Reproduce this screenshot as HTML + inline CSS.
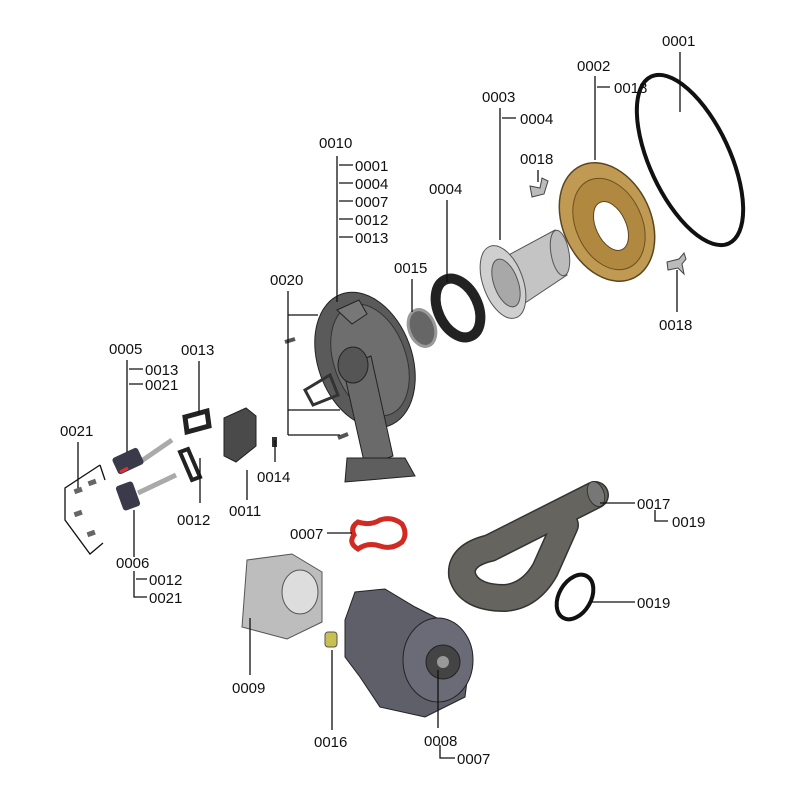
<!DOCTYPE html>
<html><head><meta charset="utf-8"><style>
html,body{margin:0;padding:0;background:#fff}
svg{display:block}
text{font-family:"Liberation Sans",sans-serif;font-size:15px;fill:#111}
</style></head><body>
<svg width="800" height="800" viewBox="0 0 800 800" xmlns="http://www.w3.org/2000/svg">
<!-- O-ring 0001 -->
<ellipse cx="690" cy="160" rx="40" ry="92" transform="rotate(-25 690 160)" fill="none" stroke="#111" stroke-width="4"/>
<!-- gold ring 0002 -->
<ellipse cx="607" cy="222" rx="44" ry="62" transform="rotate(-25 607 222)" fill="#c09a52" stroke="#5a4520" stroke-width="1.5"/>
<ellipse cx="609" cy="224" rx="33" ry="48" transform="rotate(-25 609 224)" fill="#b08840" stroke="#6a5020"/>
<ellipse cx="611" cy="226" rx="15" ry="26" transform="rotate(-25 611 226)" fill="#fff" stroke="#5a4520"/>
<!-- clips 0018 -->
<path d="M530 186l10 2 2-10 6 3-4 13-12 3z" fill="#bbb" stroke="#444"/>
<path d="M667 262l12-3 5-6 2 6-4 5 2 10-6-6-10 2z" fill="#bbb" stroke="#444"/>
<!-- burner tube 0003 -->
<path d="M503 258l52-28 12 45-48 32z" fill="#c4c4c4" stroke="#555"/>
<ellipse cx="560" cy="253" rx="9" ry="23" transform="rotate(-10 560 253)" fill="#bbb" stroke="#555"/>
<ellipse cx="503" cy="282" rx="20" ry="38" transform="rotate(-20 503 282)" fill="#cfcfcf" stroke="#555"/>
<ellipse cx="506" cy="283" rx="12" ry="25" transform="rotate(-20 506 283)" fill="#a8a8a8" stroke="#555"/>
<!-- gasket 0004 -->
<ellipse cx="458" cy="308" rx="20" ry="31" transform="rotate(-25 458 308)" fill="none" stroke="#222" stroke-width="10"/>
<!-- 0015 -->
<ellipse cx="422" cy="328" rx="13" ry="19" transform="rotate(-20 422 328)" fill="#666" stroke="#999" stroke-width="3"/>
<!-- housing 0010 -->
<ellipse cx="365" cy="360" rx="47" ry="70" transform="rotate(-20 365 360)" fill="#5a5a5a" stroke="#222"/>
<ellipse cx="370" cy="360" rx="36" ry="58" transform="rotate(-20 370 360)" fill="#6e6e6e" stroke="#333"/>
<path d="M337 310l22-10 8 14-15 10z" fill="#777" stroke="#222"/>
<path d="M305 390l25-15 8 20-25 10z" fill="none" stroke="#333" stroke-width="3"/>
<path d="M343 368l28-12 22 100-28 10z" fill="#6a6a6a" stroke="#222"/>
<ellipse cx="353" cy="365" rx="15" ry="18" fill="#555" stroke="#222"/>
<path d="M347 458l58 0 10 18-70 6z" fill="#5e5e5e" stroke="#222"/>
<path d="M285 342l10 -3" stroke="#555" stroke-width="4"/>
<path d="M338 438l10 -4" stroke="#555" stroke-width="4"/>
<!-- electrodes -->
<path d="M140 462l32-22" stroke="#aaa" stroke-width="5"/>
<rect x="114" y="452" width="28" height="18" rx="3" fill="#3a3a4a" transform="rotate(-25 128 461)"/>
<path d="M120 472l8-4" stroke="#d33" stroke-width="3"/>
<path d="M138 493l38-18" stroke="#aaa" stroke-width="5"/>
<rect x="119" y="483" width="18" height="26" rx="3" fill="#3a3a4a" transform="rotate(-20 128 496)"/>
<path d="M185 417l22-6 2 15-22 6z" fill="none" stroke="#222" stroke-width="5"/>
<path d="M180 452l8-3 12 28-8 3z" fill="none" stroke="#222" stroke-width="4"/>
<path d="M224 418l22-10 10 8v30l-20 16-12-6z" fill="#4a4a4a" stroke="#222"/>
<rect x="272" y="437" width="5" height="10" fill="#333"/>
<g fill="#666"><rect x="74" y="488" width="8" height="5" transform="rotate(-20 78 490)"/><rect x="88" y="480" width="8" height="5" transform="rotate(-20 92 482)"/><rect x="74" y="511" width="8" height="5" transform="rotate(-20 78 513)"/><rect x="87" y="531" width="8" height="5" transform="rotate(-20 91 533)"/></g>
<!-- red gasket 0007 -->
<path d="M358 522q12 4 22-2q12-4 22 4q6 10 0 18q-10 8-22 4q-12-4-22 3q-10-6-4-14q-4-8 4-13z" fill="none" stroke="#d02a22" stroke-width="5"/>
<!-- gas valve 0009 -->
<path d="M247 560l45-6 30 18v50l-35 17-45-12z" fill="#bdbdbd" stroke="#555"/>
<ellipse cx="300" cy="592" rx="18" ry="22" fill="#ddd" stroke="#555"/>
<!-- 0016 -->
<rect x="325" y="632" width="12" height="15" rx="3" fill="#c8c050" stroke="#555"/>
<!-- fan 0008 -->
<path d="M345 620l10-28 30-3 30 18 30 15 25 35 -5 40-40 20-45-10-20-30-15-20z" fill="#5f5f6a" stroke="#222"/>
<ellipse cx="438" cy="660" rx="35" ry="42" fill="#6b6b78" stroke="#222"/>
<circle cx="443" cy="662" r="17" fill="#444" stroke="#222"/>
<circle cx="443" cy="662" r="6" fill="#999"/>
<!-- exhaust pipe 0017 -->
<g fill="none" stroke-linecap="round">
<path d="M595 495L490 548Q460 555 462 575Q468 598 505 598Q530 596 545 570L565 525" stroke="#333" stroke-width="28"/>
<path d="M595 495L490 548Q460 555 462 575Q468 598 505 598Q530 596 545 570L565 525" stroke="#66645e" stroke-width="25"/>
</g>
<ellipse cx="596" cy="494" rx="8" ry="13" transform="rotate(-20 596 494)" fill="#777" stroke="#333"/>
<ellipse cx="575" cy="597" rx="16" ry="24" transform="rotate(30 575 597)" fill="none" stroke="#111" stroke-width="4"/>
<!-- leader lines -->
<g stroke="#111" stroke-width="1.3" fill="none">
<path d="M680 52V112"/>
<path d="M595 76V160M597 87H610"/>
<path d="M500 108V240M502 118H516"/>
<path d="M538 170V182"/>
<path d="M447 200V282"/>
<path d="M412 279V312"/>
<path d="M337 156V302M339 165H353M339 183H353M339 201H353M339 219H353M339 237H353"/>
<path d="M288 291V435M288 315H318M288 410H340M288 435H340"/>
<path d="M127 360V452M129 369H143M129 384H143"/>
<path d="M199 361V414"/>
<path d="M78 442V488"/>
<path d="M100 465L65 488V520L90 554L103 543M100 465L105 480"/>
<path d="M200 458V503"/>
<path d="M275 440V462"/>
<path d="M247 470V500"/>
<path d="M134 510V557M134 571V597H147M136 579H147"/>
<path d="M327 533H352"/>
<path d="M250 618V675"/>
<path d="M332 650V730"/>
<path d="M438 670V728M440 745V758H455"/>
<path d="M600 503H635M655 510V521H668"/>
<path d="M592 602H635"/>
<path d="M677 270V312"/>
</g>
<!-- labels -->
<text x="662" y="46">0001</text>
<text x="577" y="71">0002</text>
<text x="614" y="93">0018</text>
<text x="482" y="102">0003</text>
<text x="520" y="124">0004</text>
<text x="520" y="164">0018</text>
<text x="429" y="194">0004</text>
<text x="394" y="273">0015</text>
<text x="319" y="148">0010</text>
<text x="355" y="171">0001</text>
<text x="355" y="189">0004</text>
<text x="355" y="207">0007</text>
<text x="355" y="225">0012</text>
<text x="355" y="243">0013</text>
<text x="270" y="285">0020</text>
<text x="109" y="354">0005</text>
<text x="145" y="375">0013</text>
<text x="145" y="390">0021</text>
<text x="181" y="355">0013</text>
<text x="60" y="436">0021</text>
<text x="257" y="482">0014</text>
<text x="229" y="516">0011</text>
<text x="177" y="525">0012</text>
<text x="116" y="568">0006</text>
<text x="149" y="585">0012</text>
<text x="149" y="603">0021</text>
<text x="290" y="539">0007</text>
<text x="232" y="693">0009</text>
<text x="314" y="747">0016</text>
<text x="424" y="746">0008</text>
<text x="457" y="764">0007</text>
<text x="637" y="509">0017</text>
<text x="672" y="527">0019</text>
<text x="637" y="608">0019</text>
<text x="659" y="330">0018</text>
</svg>
</body></html>
